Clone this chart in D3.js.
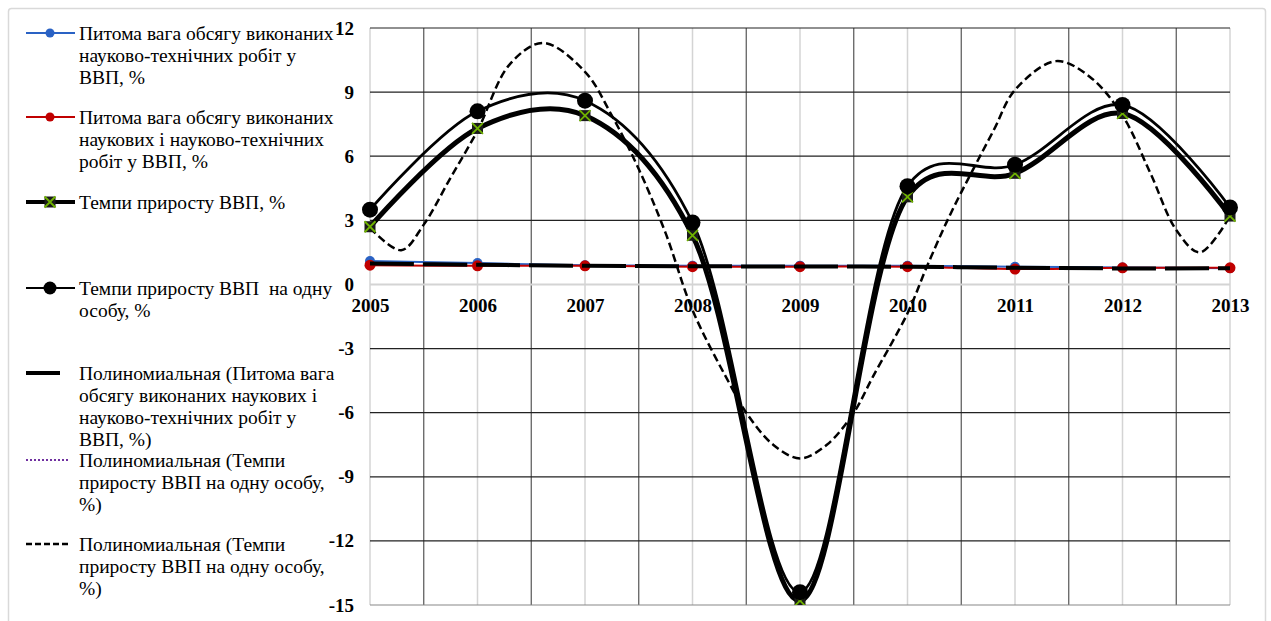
<!DOCTYPE html>
<html><head><meta charset="utf-8">
<script src="https://cdn.jsdelivr.net/npm/d3@7"></script>
<style>body{margin:0;background:#fff}svg{display:block}svg text{font-family:"Liberation Serif","Times New Roman",serif}</style>
</head><body>
<svg id="c" width="1271" height="621"></svg>
<script>
// ---- data ----
const years = [2005, 2006, 2007, 2008, 2009, 2010, 2011, 2012, 2013];
const sciTechShare = [1.10, 1.00, 0.90, 0.88, 0.88, 0.87, 0.83, 0.79, 0.76];
const sciAndSciTechShare = [0.90, 0.87, 0.87, 0.83, 0.83, 0.83, 0.72, 0.78, 0.78];
const gdpGrowth = [2.7, 7.3, 7.9, 2.3, -14.8, 4.1, 5.2, 8.0, 3.2];
const gdpPerCapitaGrowth = [3.5, 8.1, 8.6, 2.9, -14.4, 4.6, 5.6, 8.4, 3.6];
const shareTrend = [0.98, 0.92, 0.87, 0.85, 0.84, 0.83, 0.78, 0.75, 0.76];
const perCapitaTrendX = [2005, 2005.29, 2005.5, 2005.75, 2006, 2006.3, 2006.61, 2007, 2007.25, 2007.5, 2007.75, 2008, 2008.34, 2008.5, 2008.75, 2009, 2009.25, 2009.5, 2009.68, 2010, 2010.18, 2010.4, 2010.8, 2011, 2011.38, 2011.7, 2012, 2012.26, 2012.5, 2012.72, 2013];
const perCapitaTrendY = [2.65, 1.6, 2.8, 5.0, 7.2, 10.3, 11.3, 9.95, 7.9, 5.4, 2.4, -1.2, -4.6, -6.0, -7.5, -8.14, -7.5, -6.0, -4.3, -1.35, 0.83, 3.3, 7.2, 9.1, 10.45, 9.7, 7.9, 5.2, 2.55, 1.5, 3.2];
const yTicks = [-15, -12, -9, -6, -3, 0, 3, 6, 9, 12];
const legendLabels = [
  ["Питома вага обсягу виконаних", "науково-технічних робіт у", "ВВП, %"],
  ["Питома вага обсягу виконаних", "наукових і науково-технічних", "робіт у ВВП, %"],
  ["Темпи приросту ВВП, %"],
  ["Темпи приросту ВВП  на одну", "особу, %"],
  ["Полиномиальная (Питома вага", "обсягу виконаних наукових і", "науково-технічних робіт у", "ВВП, %)"],
  ["Полиномиальная (Темпи", "приросту ВВП на одну особу,", "%)"],
  ["Полиномиальная (Темпи", "приросту ВВП на одну особу,", "%)"]
];

// ---- layout ----
const svg = d3.select("#c");
const X0 = 370, X1 = 1230, Y0 = 28, Y1 = 605;
const x = d3.scaleLinear().domain([2005, 2013]).range([X0, X1]);
const y = d3.scaleLinear().domain([-15, 12]).range([Y1, Y0]);
const serif = "Liberation Serif";

svg.append("rect").attr("x", 0).attr("y", 0).attr("width", 1271).attr("height", 621).attr("fill", "#fff");
svg.append("rect").attr("x", 8.5).attr("y", 8.5).attr("width", 1257).attr("height", 640)
  .attr("rx", 3).attr("fill", "#fff").attr("stroke", "#d9d9d9").attr("stroke-width", 1.5);

const g = svg.append("g");
g.selectAll("line.vy").data(years).join("line")
  .attr("x1", d => x(d)).attr("x2", d => x(d)).attr("y1", Y0).attr("y2", Y1)
  .attr("stroke", "#d4d4d4").attr("stroke-width", 1.5);
g.selectAll("line.vm").data(years.slice(0, -1)).join("line")
  .attr("x1", d => x(d + 0.5)).attr("x2", d => x(d + 0.5)).attr("y1", Y0).attr("y2", Y1)
  .attr("stroke", "#555").attr("stroke-width", 1.2);
g.selectAll("line.h").data(yTicks).join("line")
  .attr("x1", X0).attr("x2", X1).attr("y1", d => y(d)).attr("y2", d => y(d))
  .attr("stroke", d => d === 0 ? "#d4d4d4" : (d === -15 ? "#888" : "#222"))
  .attr("stroke-width", d => d === 0 ? 2 : 1.2);

const yAxis = d3.axisLeft(y).tickValues(yTicks).tickSize(0).tickPadding(16).tickFormat(d => String(d));
const ya = svg.append("g").attr("transform", `translate(${X0},0)`).call(yAxis);
ya.attr("font-family", null);
ya.select(".domain").remove();
ya.selectAll("text").style("font-family", serif).attr("font-size", 19).attr("font-weight", "bold").attr("fill", "#000");

const xAxis = d3.axisBottom(x).tickValues(years).tickSize(0).tickPadding(14).tickFormat(d => String(d));
const xa = svg.append("g").attr("transform", `translate(0,${y(0)})`).call(xAxis);
xa.attr("font-family", null);
xa.select(".domain").remove();
xa.selectAll("text").style("font-family", serif).attr("font-size", 19).attr("font-weight", "bold").attr("fill", "#000");

svg.append("clipPath").attr("id", "pc").append("rect").attr("x", X0 - 20).attr("y", Y0 - 5).attr("width", X1 - X0 + 40).attr("height", Y1 - Y0 + 5);
const plot = svg.append("g").attr("clip-path", "url(#pc)");

const smooth = d3.curveCatmullRom.alpha(0.25);
const lineOf = vals => d3.line().x((d, i) => x(years[i])).y(d => y(d)).curve(smooth)(vals);

plot.append("path").attr("d", lineOf(sciTechShare)).attr("fill", "none").attr("stroke", "#2a62c4").attr("stroke-width", 2);
plot.append("path").attr("d", lineOf(sciAndSciTechShare)).attr("fill", "none").attr("stroke", "#c00000").attr("stroke-width", 2);
plot.selectAll("circle.b").data(sciTechShare).join("circle")
  .attr("cx", (d, i) => x(years[i])).attr("cy", d => y(d)).attr("r", 5).attr("fill", "#2a62c4");
plot.selectAll("circle.r").data(sciAndSciTechShare).join("circle")
  .attr("cx", (d, i) => x(years[i])).attr("cy", d => y(d)).attr("r", 5.5).attr("fill", "#c00000");
plot.append("path").attr("d", lineOf(shareTrend)).attr("fill", "none").attr("stroke", "#000")
  .attr("stroke-width", 4).attr("stroke-dasharray", "44,9");

const trendLine = d3.line().x((d, i) => x(perCapitaTrendX[i])).y(d => y(d)).curve(d3.curveCatmullRom.alpha(0.5));
plot.append("path").attr("d", trendLine(perCapitaTrendY)).attr("fill", "none").attr("stroke", "#000")
  .attr("stroke-width", 2.5).attr("stroke-dasharray", "8,4");

plot.append("path").attr("d", lineOf(gdpGrowth)).attr("fill", "none").attr("stroke", "#000").attr("stroke-width", 5);
plot.append("path").attr("d", lineOf(gdpPerCapitaGrowth)).attr("fill", "none").attr("stroke", "#000").attr("stroke-width", 2.8);

function xMarker(sel, cx, cy) {
  const s = 5.5;
  sel.append("rect").attr("x", cx - s).attr("y", cy - s).attr("width", 2 * s).attr("height", 2 * s).attr("fill", "#1a1a1a");
  sel.append("path").attr("d", `M${cx - s},${cy - s}L${cx + s},${cy + s}M${cx + s},${cy - s}L${cx - s},${cy + s}`)
    .attr("stroke", "#6fb200").attr("stroke-width", 1.8);
}
const gm = plot.append("g");
gdpGrowth.forEach((d, i) => xMarker(gm, x(years[i]), y(d)));
plot.selectAll("circle.k").data(gdpPerCapitaGrowth).join("circle")
  .attr("cx", (d, i) => x(years[i])).attr("cy", d => y(d)).attr("r", 8).attr("fill", "#000");

// ---- legend ----
const lg = svg.append("g");
const firstY = [33, 117, 202, 288, 373, 460, 544];
const LH = 22.2;
legendLabels.forEach((lines, k) => {
  const t = lg.append("text").style("font-family", serif).attr("font-size", 19.5).attr("fill", "#000");
  lines.forEach((s, j) => {
    t.append("tspan").attr("x", 79).attr("y", firstY[k] + j * LH + 6.5).attr("xml:space", "preserve").text(s);
  });
});
const sy = firstY;
lg.append("line").attr("x1", 26).attr("x2", 75).attr("y1", sy[0]).attr("y2", sy[0]).attr("stroke", "#2a62c4").attr("stroke-width", 2);
lg.append("circle").attr("cx", 50).attr("cy", sy[0]).attr("r", 4.5).attr("fill", "#2a62c4");
lg.append("line").attr("x1", 26).attr("x2", 75).attr("y1", sy[1]).attr("y2", sy[1]).attr("stroke", "#c00000").attr("stroke-width", 2);
lg.append("circle").attr("cx", 50).attr("cy", sy[1]).attr("r", 4.5).attr("fill", "#c00000");
lg.append("line").attr("x1", 26).attr("x2", 75).attr("y1", sy[2]).attr("y2", sy[2]).attr("stroke", "#000").attr("stroke-width", 4);
xMarker(lg, 50, sy[2]);
lg.append("line").attr("x1", 26).attr("x2", 75).attr("y1", sy[3]).attr("y2", sy[3]).attr("stroke", "#000").attr("stroke-width", 2);
lg.append("circle").attr("cx", 50).attr("cy", sy[3]).attr("r", 6.5).attr("fill", "#000");
lg.append("line").attr("x1", 26).attr("x2", 60).attr("y1", sy[4]).attr("y2", sy[4]).attr("stroke", "#000").attr("stroke-width", 4);
lg.append("line").attr("x1", 26).attr("x2", 68).attr("y1", sy[5]).attr("y2", sy[5]).attr("stroke", "#7030a0").attr("stroke-width", 2).attr("stroke-dasharray", "2,2");
lg.append("line").attr("x1", 26).attr("x2", 69).attr("y1", sy[6]).attr("y2", sy[6]).attr("stroke", "#000").attr("stroke-width", 2.5).attr("stroke-dasharray", "6,3");
</script>
</body></html>
